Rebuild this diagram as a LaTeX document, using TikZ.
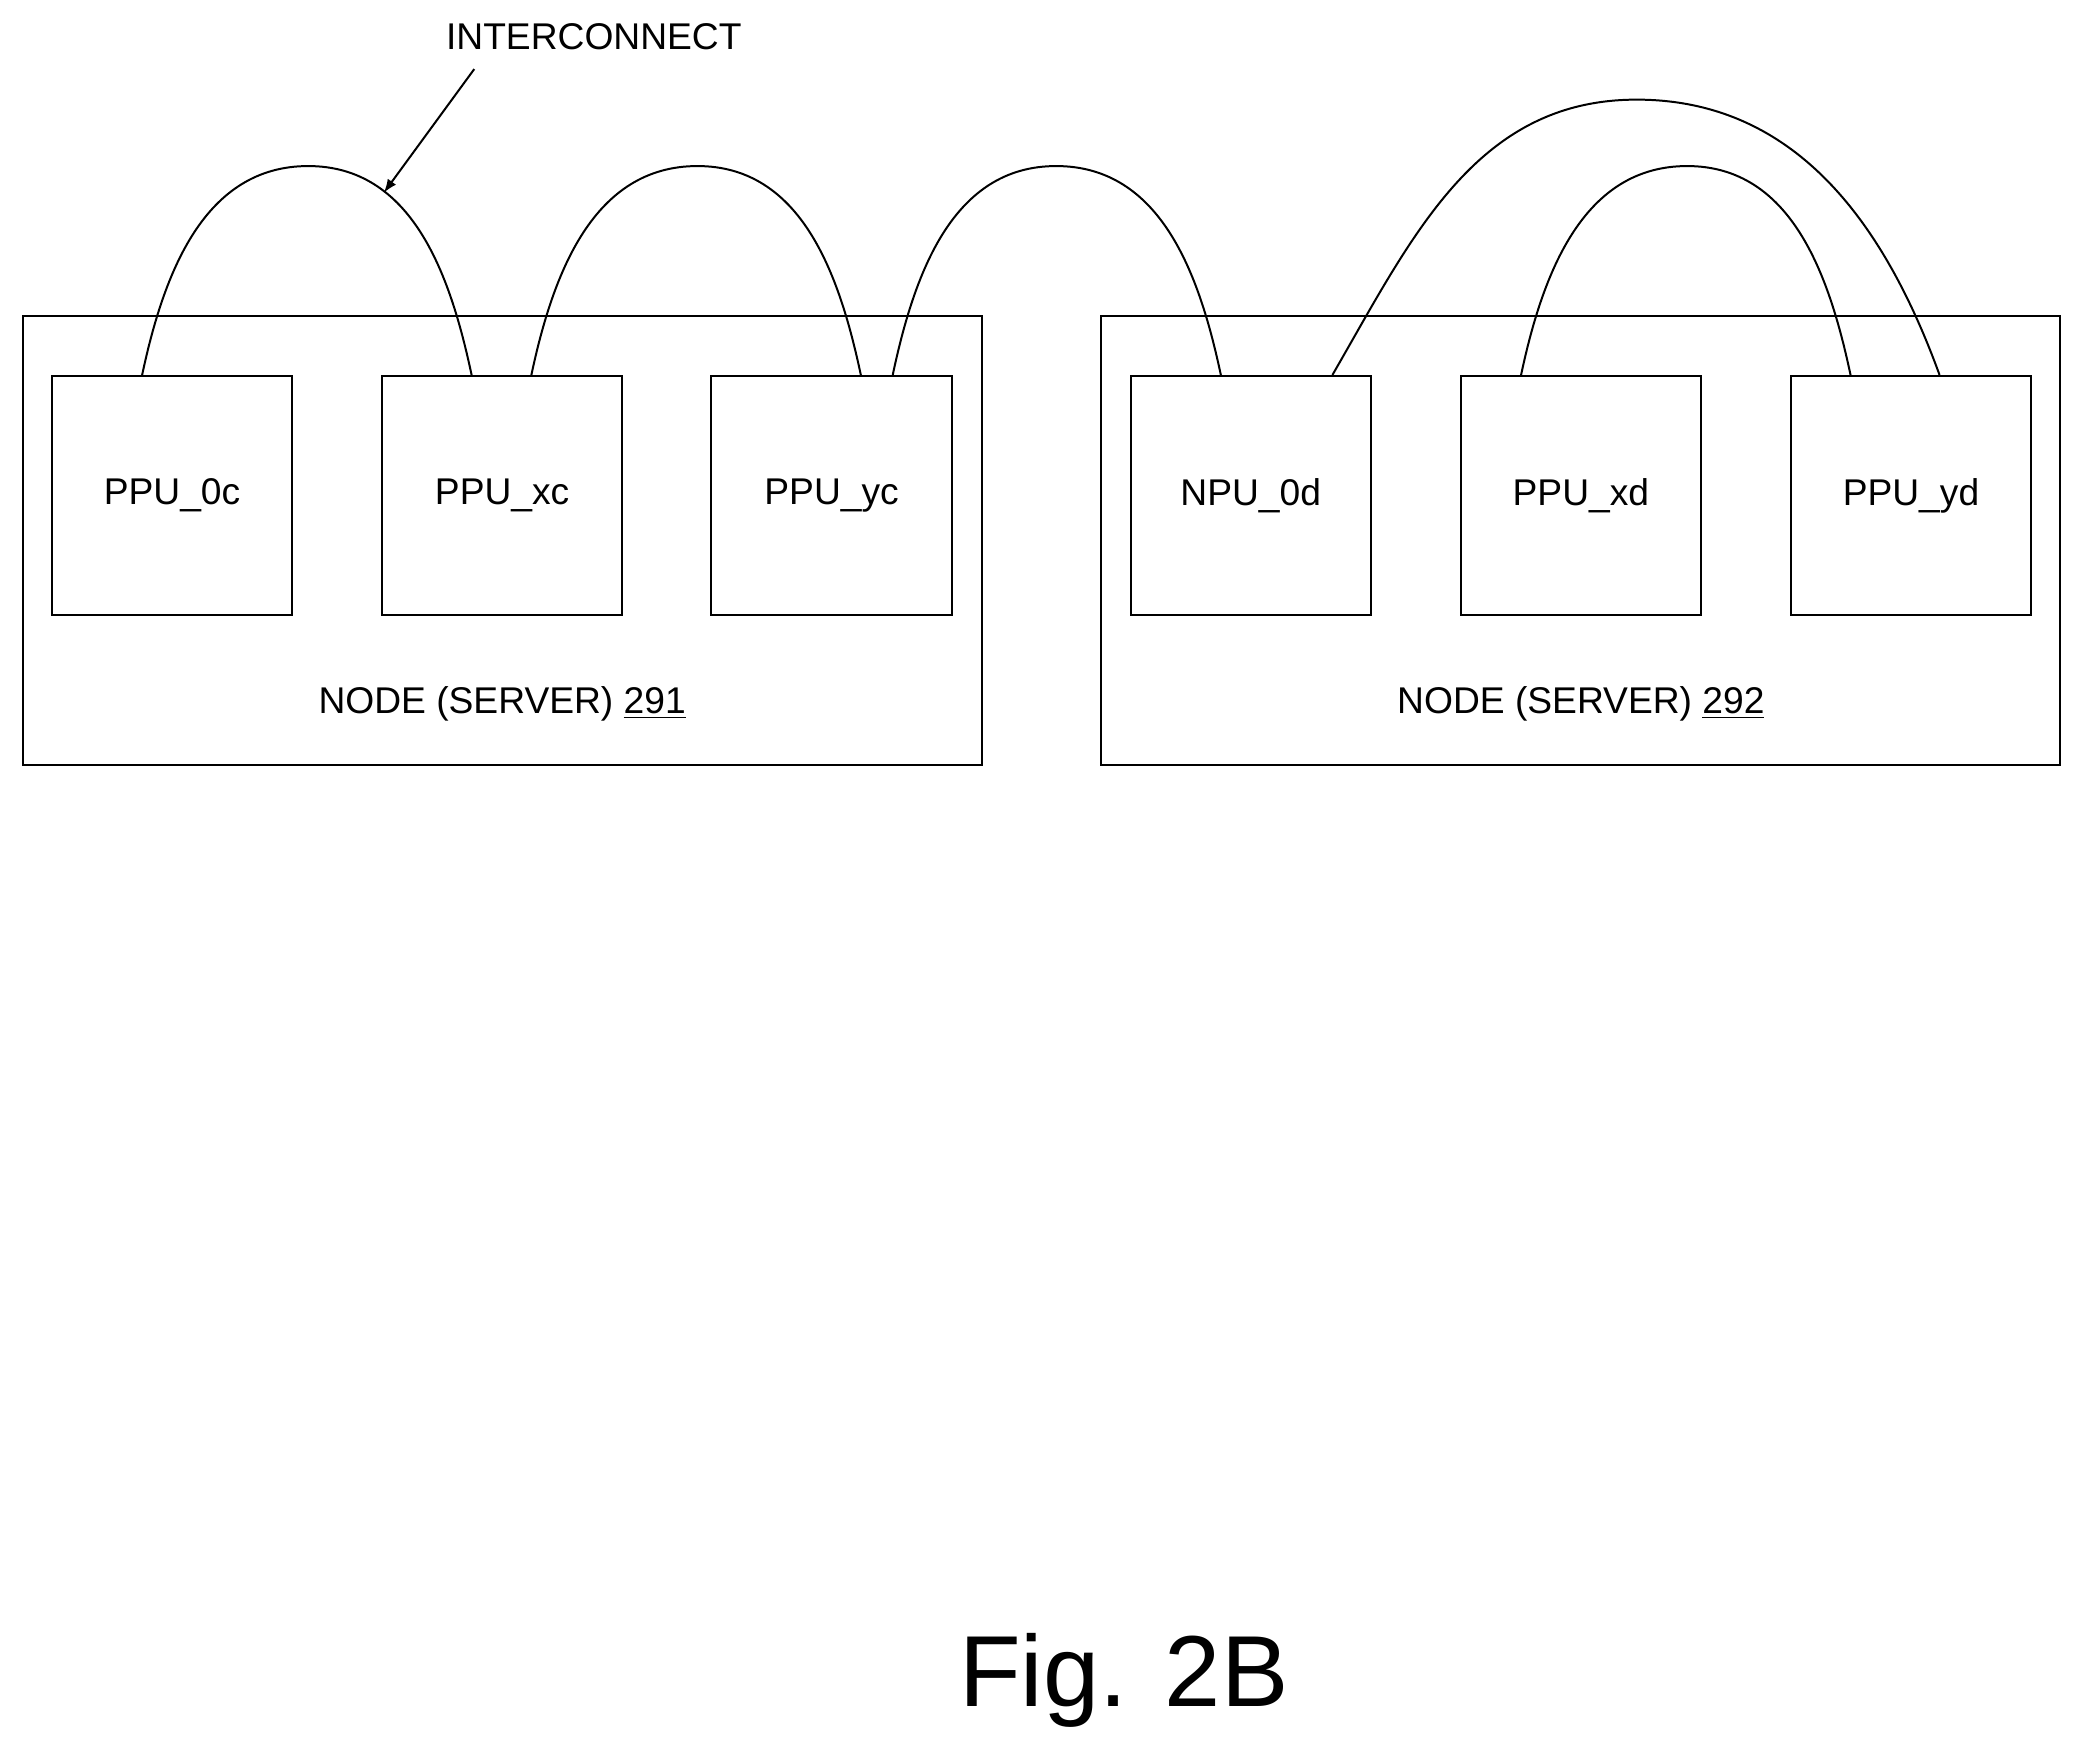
\documentclass[tikz,border=0pt]{standalone}
\usepackage{fontspec}
\setmainfont{Liberation Sans}
\usetikzlibrary{positioning}
\tikzset{every picture/.style={line width=0.75pt}}
\tikzset{
  unit/.style={draw, minimum width=90.5pt, minimum height=90pt, inner sep=0pt, font=\fontsize{14}{16}\selectfont},
  server/.style={draw, minimum width=361pt, minimum height=169pt, inner sep=0pt},
  lbl/.style={font=\fontsize{14}{16}\selectfont, inner sep=0pt}
}
\begin{document}
\begin{tikzpicture}[x=0.5pt,y=-0.5pt]
\useasboundingbox (0,0) rectangle (1568,1322);

% servers
\node[server] (s1) at (378,407) {};
\node[server] (s2) at (1190,407) {};
\node[lbl] (l1) at (378,530) {NODE (SERVER) \underline{291}};
\node[lbl] (l2) at (1190,530) {NODE (SERVER) \underline{292}};

% processing units
\node[unit] (p0) at (129.5,373) {PPU\_0c};
\node[unit] (px) at (378,373) {PPU\_xc};
\node[unit] (py) at (626,373) {PPU\_yc};
\node[unit] (n0) at (941.5,373) {NPU\_0d};
\node[unit] (qx) at (1190,373) {PPU\_xd};
\node[unit] (qy) at (1438.5,373) {PPU\_yd};

% arc peaks
\coordinate (t1) at (232,125);
\coordinate (t2) at (525,125);
\coordinate (t3) at (795,125);
\coordinate (t4) at (1270,125);
\coordinate (t5) at (1232,75);

% interconnects
\draw ([xshift=-11.25pt]p0.north) to[out=78,in=180] (t1) to[out=0,in=102] ([xshift=-11.5pt]px.north);
\draw ([xshift=11pt]px.north) to[out=78,in=180] (t2) to[out=0,in=102] ([xshift=11pt]py.north);
\draw ([xshift=23pt]py.north) to[out=78,in=180] (t3) to[out=0,in=102] ([xshift=-11.25pt]n0.north);
\draw ([xshift=-22.5pt]qx.north) to[out=78,in=180] (t4) to[out=0,in=102] ([xshift=-22.75pt]qy.north);
\draw ([xshift=30.75pt]n0.north) to[out=60,in=180] (t5) to[out=0,in=110] ([xshift=10.75pt]qy.north);

% callout
\node[lbl] (ic) at (447,28) {INTERCONNECT};
\coordinate (ia) at (289,145);
\draw[-latex] (357,52) -- (ia);

\node[font=\fontsize{38}{44}\selectfont, inner sep=0pt] (fig) at (846,1265) {Fig. 2B};
\end{tikzpicture}
\end{document}
